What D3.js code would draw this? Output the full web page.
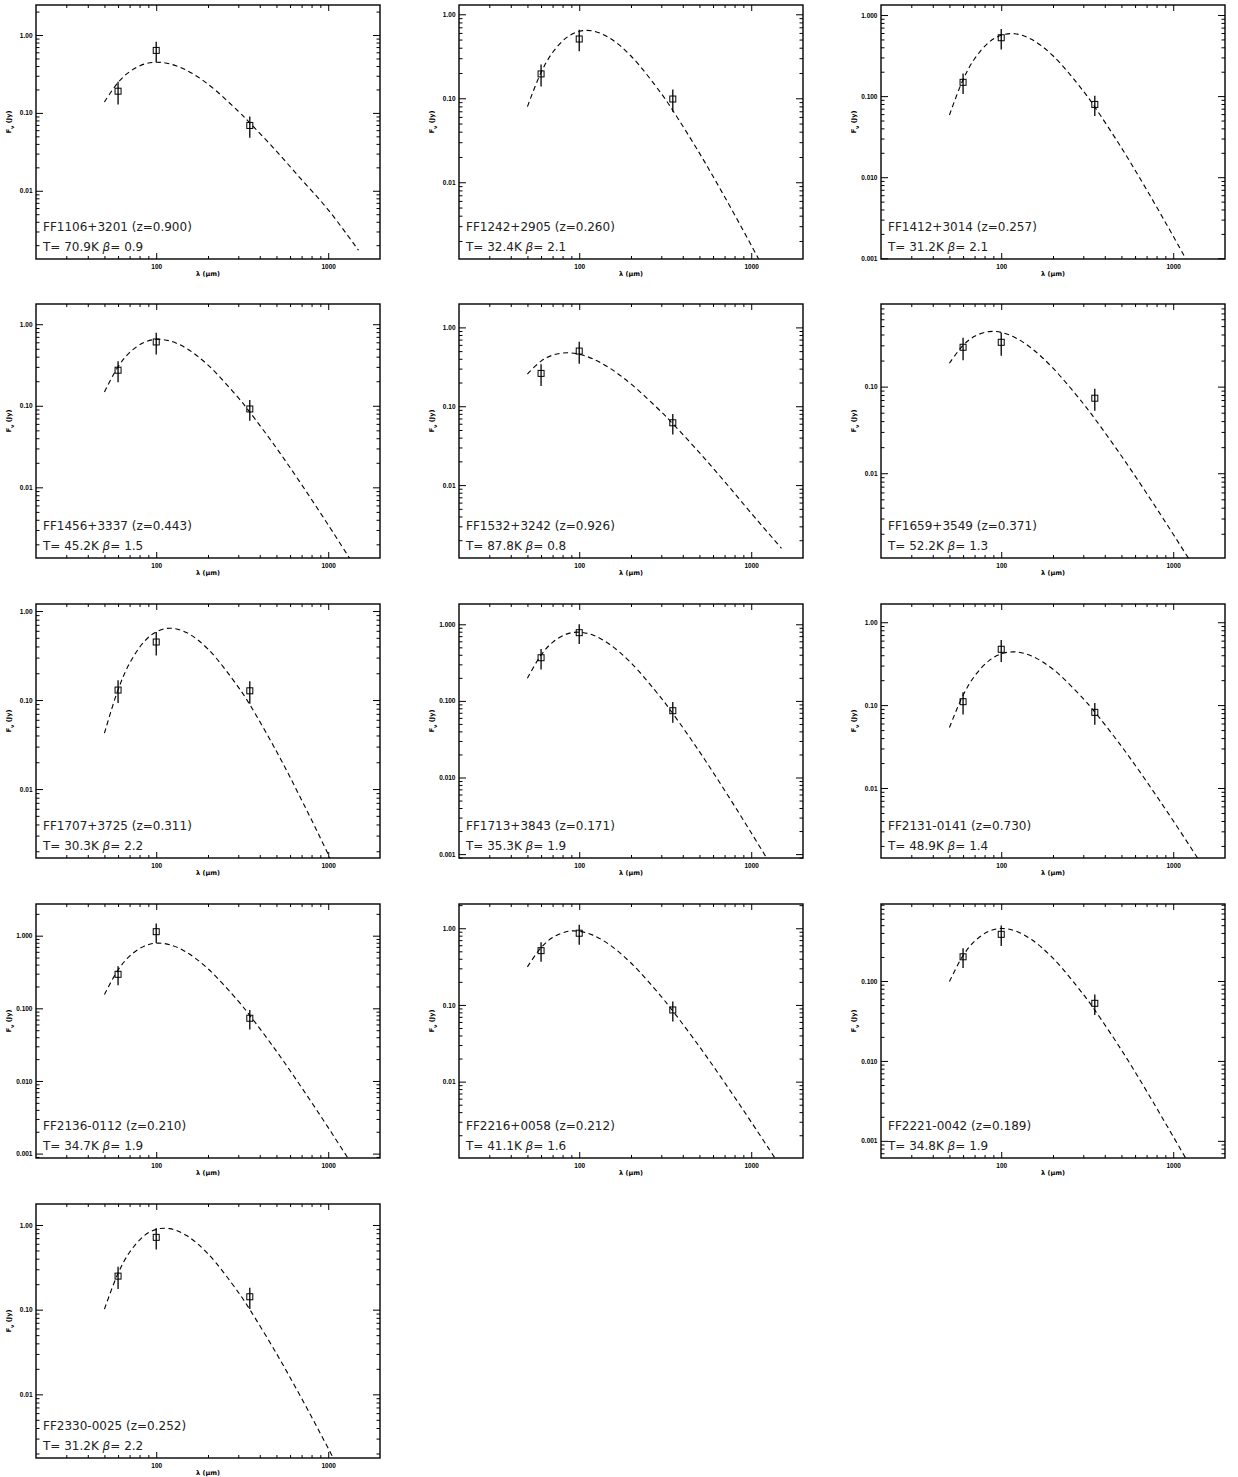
<!DOCTYPE html>
<html>
<head>
<meta charset="utf-8">
<script src="https://cdn.jsdelivr.net/npm/d3@7"></script>
<style>
  body { margin: 0; background: #fff; }
  svg text { font-family: "DejaVu Sans", sans-serif; }
  .tick text { font-family: "Liberation Sans", sans-serif; font-weight: bold; font-size: 6.5px; }
</style>
</head>
<body>
<svg id="sed-grid" width="1238" height="1477"></svg>
<script>
// source names and fit parameters, as printed in each panel
const sources = ['FF1106+3201', 'FF1242+2905', 'FF1412+3014', 'FF1456+3337', 'FF1532+3242',
  'FF1659+3549', 'FF1707+3725', 'FF1713+3843', 'FF2131-0141', 'FF2136-0112',
  'FF2216+0058', 'FF2221-0042', 'FF2330-0025'];
const redshifts = ['0.900', '0.260', '0.257', '0.443', '0.926', '0.371', '0.311', '0.171',
  '0.730', '0.210', '0.212', '0.189', '0.252'];
const temps = ['70.9', '32.4', '31.2', '45.2', '87.8', '52.2', '30.3', '35.3', '48.9', '34.7',
  '41.1', '34.8', '31.2'];
const betas = ['0.9', '2.1', '2.1', '1.5', '0.8', '1.3', '2.2', '1.9', '1.4', '1.9', '1.6', '1.9', '2.2'];

// y range (Jy) of every panel, [bottom, top]
const yRanges = [
  [0.00133, 2.43], [0.00122, 1.29], [0.00098, 1.33], [0.00136, 1.77], [0.00119, 1.98],
  [0.00105, 0.90], [0.00168, 1.20], [0.00089, 1.84], [0.00143, 1.66], [0.00087, 2.73],
  [0.00101, 2.07], [0.00061, 0.92], [0.00177, 1.77]
];

// photometry: 60, 100 (IRAS) and 350 um
const obsLam = [60, 100, 350];
const obsFlux = [
  [0.19, 0.635, 0.069], [0.195, 0.508, 0.098], [0.148, 0.525, 0.079], [0.273, 0.606, 0.0914],
  [0.261, 0.501, 0.0617], [0.285, 0.325, 0.0735], [0.1295, 0.449, 0.127], [0.366, 0.777, 0.0745],
  [0.11, 0.472, 0.0818], [0.294, 1.135, 0.073], [0.51, 0.861, 0.086], [0.201, 0.384, 0.0526],
  [0.249, 0.715, 0.142]
];
const obsErr = [
  [0.062, 0.185, 0.021], [0.057, 0.145, 0.029], [0.042, 0.15, 0.022], [0.078, 0.18, 0.026],
  [0.08, 0.155, 0.018], [0.083, 0.098, 0.021], [0.037, 0.133, 0.036], [0.11, 0.226, 0.0225],
  [0.033, 0.14, 0.024], [0.087, 0.34, 0.022], [0.145, 0.25, 0.025], [0.056, 0.11, 0.015],
  [0.073, 0.2, 0.04]
];

// fitted greybody, sampled off the plots (50 to 1500 um)
const modelLam = [50, 60, 70, 85, 100, 120, 150, 200, 300, 350, 500, 700, 1000, 1500];
const modelFlux = [
  [0.138, 0.246, 0.338, 0.423, 0.447, 0.426, 0.353, 0.234, 0.105, 0.0745, 0.0322, 0.0139, 0.0057, 0.00172],
  [0.0796, 0.2028, 0.3504, 0.534, 0.627, 0.633, 0.523, 0.3186, 0.1138, 0.0716, 0.02223, 0.00673, 0.00178, 0.000374],
  [0.0585, 0.1595, 0.289, 0.4634, 0.5633, 0.5877, 0.5013, 0.3148, 0.1155, 0.0733, 0.02304, 0.00703, 0.001873, 0.000394],
  [0.1477, 0.3008, 0.449, 0.599, 0.6516, 0.6243, 0.505, 0.3153, 0.1255, 0.0837, 0.0303, 0.01083, 0.00346, 0.000908],
  [0.256, 0.374, 0.444, 0.4766, 0.457, 0.399, 0.3058, 0.1919, 0.0848, 0.0601, 0.0258, 0.0111, 0.0044, 0.00158],
  [0.1862, 0.300, 0.3814, 0.432, 0.423, 0.3703, 0.2773, 0.1636, 0.0637, 0.0426, 0.01583, 0.00588, 0.001976, 0.000554],
  [0.0424, 0.1308, 0.2587, 0.4529, 0.5843, 0.6417, 0.5736, 0.3736, 0.1398, 0.0888, 0.02655, 0.00755, 0.00185, 0.000352],
  [0.1976, 0.397, 0.5812, 0.7497, 0.7886, 0.7227, 0.5492, 0.3134, 0.1086, 0.0685, 0.02175, 0.00683, 0.0019, 0.000426],
  [0.0537, 0.1314, 0.2242, 0.3447, 0.4156, 0.4389, 0.3916, 0.2705, 0.1198, 0.0825, 0.0319, 0.01199, 0.00402, 0.00111],
  [0.1547, 0.3373, 0.5235, 0.7176, 0.7877, 0.7504, 0.5921, 0.3504, 0.1254, 0.0798, 0.0257, 0.00814, 0.00228, 0.000513],
  [0.3137, 0.5585, 0.7559, 0.9058, 0.9139, 0.8132, 0.6098, 0.352, 0.1286, 0.0834, 0.02858, 0.00975, 0.00298, 0.000746],
  [0.0986, 0.208, 0.315, 0.421, 0.4541, 0.4257, 0.3307, 0.1928, 0.0681, 0.0432, 0.0137, 0.0042, 0.00113, 0.00025],
  [0.1013, 0.2687, 0.4769, 0.745, 0.888, 0.9056, 0.7522, 0.4572, 0.1607, 0.1003, 0.0304, 0.00896, 0.0023, 0.000465]
];

const xRange = [20, 2000];
const xMajor = [100, 1000];

const colX = [36, 459, 881];
const rowY = [5, 304, 604, 904, 1204];
const W = 344, H = 254;

const svg = d3.select('#sed-grid');

const minorTicks = (lo, hi) => {
  const out = [];
  for (let e = -5; e <= 4; e++) {
    for (let k = 2; k <= 9; k++) {
      const v = k * Math.pow(10, e);
      if (v > lo && v < hi) out.push(v);
    }
  }
  return out;
};
const decades = (lo, hi) => {
  const out = [];
  for (let e = -5; e <= 4; e++) {
    const v = Math.pow(10, e);
    if (v >= lo * 0.999 && v <= hi) out.push(v);
  }
  return out;
};

sources.forEach((name, i) => {
  const x0 = colX[i % 3];
  const y0 = rowY[Math.floor(i / 3)];
  const g = svg.append('g').attr('transform', `translate(${x0},${y0})`);

  const x = d3.scaleLog().domain(xRange).range([0, W]);
  const y = d3.scaleLog().domain(yRanges[i]).range([H, 0]);

  const yMajor = decades(yRanges[i][0], yRanges[i][1]);
  const nDec = yRanges[i][0] <= 0.001 ? 3 : 2;

  // axes, ticks pointing inward on all four sides
  const addAxis = (axis, tf) => {
    const a = g.append('g').attr('transform', tf).call(axis);
    a.select('.domain').remove();
    a.selectAll('.tick line').attr('stroke', '#000').attr('stroke-width', 1);
    return a;
  };
  addAxis(d3.axisBottom(x).tickValues(xMajor).tickSize(-6).tickPadding(5.5).tickFormat(d3.format('d')), `translate(0,${H})`);
  addAxis(d3.axisBottom(x).tickValues(minorTicks(...xRange)).tickSize(-3).tickFormat(''), `translate(0,${H})`);
  addAxis(d3.axisTop(x).tickValues(xMajor).tickSize(-6).tickFormat(''), 'translate(0,0)');
  addAxis(d3.axisTop(x).tickValues(minorTicks(...xRange)).tickSize(-3).tickFormat(''), 'translate(0,0)');
  addAxis(d3.axisLeft(y).tickValues(yMajor).tickSize(-7).tickPadding(3.5).tickFormat(d3.format(`.${nDec}f`)), 'translate(0,0)');
  addAxis(d3.axisLeft(y).tickValues(minorTicks(...yRanges[i])).tickSize(-3.5).tickFormat(''), 'translate(0,0)');
  addAxis(d3.axisRight(y).tickValues(yMajor).tickSize(-7).tickFormat(''), `translate(${W},0)`);
  addAxis(d3.axisRight(y).tickValues(minorTicks(...yRanges[i])).tickSize(-3.5).tickFormat(''), `translate(${W},0)`);

  g.append('rect')
    .attr('width', W).attr('height', H)
    .attr('fill', 'none').attr('stroke', '#000').attr('stroke-width', 1.4);

  // axis titles
  g.append('text')
    .attr('x', W / 2).attr('y', H + 17)
    .attr('text-anchor', 'middle')
    .style('font-size', '6.5px').style('font-weight', 'bold')
    .text('λ (μm)');
  const yt = g.append('text')
    .attr('transform', `translate(-25,${H / 2 - 10}) rotate(-90)`)
    .attr('text-anchor', 'middle')
    .style('font-size', '6.5px').style('font-weight', 'bold');
  yt.append('tspan').text('F');
  yt.append('tspan').attr('baseline-shift', 'sub').style('font-size', '5px').text('ν');
  yt.append('tspan').text(' (Jy)');

  // model curve
  g.append('clipPath').attr('id', `clip${i}`)
    .append('rect').attr('width', W).attr('height', H);
  const line = d3.line()
    .x((d) => x(d[0]))
    .y((d) => y(d[1]))
    .curve(d3.curveCatmullRom);
  g.append('path')
    .datum(modelLam.map((l, k) => [l, modelFlux[i][k]]))
    .attr('clip-path', `url(#clip${i})`)
    .attr('d', line)
    .attr('fill', 'none')
    .attr('stroke', '#000')
    .attr('stroke-width', 1.1)
    .attr('stroke-dasharray', '5,3.5');

  // photometry with error bars
  const pts = obsLam.map((l, k) => ({ l, f: obsFlux[i][k], e: obsErr[i][k] }));
  g.selectAll('line.err').data(pts).enter().append('line')
    .attr('class', 'err')
    .attr('x1', (d) => x(d.l)).attr('x2', (d) => x(d.l))
    .attr('y1', (d) => y(d.f - d.e)).attr('y2', (d) => y(d.f + d.e))
    .attr('stroke', '#000').attr('stroke-width', 1.3);
  g.selectAll('rect.pt').data(pts).enter().append('rect')
    .attr('class', 'pt')
    .attr('x', (d) => x(d.l) - 3).attr('y', (d) => y(d.f) - 3)
    .attr('width', 6).attr('height', 6)
    .attr('fill', 'none').attr('stroke', '#000').attr('stroke-width', 1);

  // labels
  g.append('text')
    .attr('x', 7).attr('y', H - 28)
    .style('font-size', '12px').attr('fill', '#222')
    .text(`${name} (z=${redshifts[i]})`);
  const t2 = g.append('text')
    .attr('x', 7).attr('y', H - 8)
    .style('font-size', '12px').attr('fill', '#222')
    .attr('xml:space', 'preserve');
  t2.append('tspan').text(`T= ${temps[i]}K `);
  t2.append('tspan').style('font-style', 'italic').text('β');
  t2.append('tspan').text(`= ${betas[i]}`);
});
</script>
</body>
</html>
